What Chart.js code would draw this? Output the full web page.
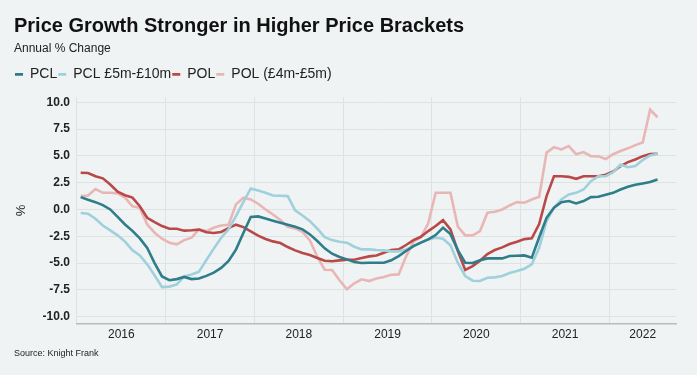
<!DOCTYPE html>
<html>
<head>
<meta charset="utf-8">
<script src="https://cdn.jsdelivr.net/npm/chart.js@4.4.1/dist/chart.umd.min.js"></script>
<style>
  body { margin: 0; background: #f0f3f3; }
  #wrap { position: relative; width: 697px; height: 375px; background: #f0f3f3; }
  #source { position: absolute; left: 14px; top: 348px; font: 9px "Liberation Sans", Arial, sans-serif; color: #222; }
</style>
</head>
<body>
<div id="wrap">
  <canvas id="chart"></canvas>
  <div id="source">Source: Knight Frank</div>
</div>
<script>
// annual % change, monthly Jan 2016 - Jul 2022
const years = ['2016', '2017', '2018', '2019', '2020', '2021', '2022'];
const yearCentres = [6, 18, 30, 42, 54, 66, 76.5];
const yTicks = [-10, -7.5, -5, -2.5, 0, 2.5, 5, 7.5, 10];

const pcl = [
  1.15, 0.9, 0.68, 0.4, 0.0, -0.7, -1.4, -2.0, -2.7, -3.6, -5.0, -6.25, -6.6, -6.5,
  -6.3, -6.5, -6.45, -6.2, -5.9, -5.45, -4.8, -3.75, -2.2, -0.7, -0.65, -0.85, -1.05,
  -1.24, -1.43, -1.61, -1.86, -2.33, -2.95, -3.63, -4.13, -4.44, -4.66, -4.9, -5.0, -4.97,
  -4.97, -4.97, -4.75, -4.35, -3.88, -3.42, -3.1, -2.8, -2.39, -1.7, -2.3, -3.79, -4.97, -5.0,
  -4.75, -4.57, -4.57, -4.57, -4.35, -4.32, -4.29, -4.5, -2.6, -0.78, 0.16, 0.68, 0.78,
  0.56, 0.78, 1.15, 1.18, 1.37, 1.55, 1.86, 2.11, 2.3, 2.42, 2.55, 2.8
];
const pcl5to10 = [
  -0.34, -0.4, -0.87, -1.5, -1.96, -2.42, -3.0, -3.8, -4.29, -5.12, -6.15, -7.24, -7.2, -7.0,
  -6.24, -6.06, -5.8, -4.72, -3.66, -2.64, -1.86, -0.62, 0.68, 1.96, 1.77, 1.55, 1.3,
  1.27, 1.24, -0.09, -0.56, -1.09, -1.8, -2.58, -2.86, -3.01, -3.1, -3.48, -3.73, -3.73,
  -3.79, -3.82, -3.91, -3.91, -3.73, -3.42, -3.1, -2.8, -2.64, -2.73, -3.35, -4.97, -6.21, -6.65,
  -6.68, -6.37, -6.34, -6.21, -5.93, -5.75, -5.53, -5.12, -3.57, -1.09, 0.16, 0.93, 1.4,
  1.55, 1.86, 2.64, 3.1, 3.1, 3.48, 4.19, 3.94, 4.04, 4.6, 5.03, 5.19
];
const pol = [
  3.42, 3.4, 3.1, 2.9, 2.33, 1.65, 1.33, 1.1, 0.3, -0.78, -1.18, -1.55, -1.8, -1.8,
  -1.98, -1.94, -1.88, -2.13, -2.2, -2.1, -1.74, -1.42, -1.65, -2.05, -2.45, -2.76, -2.98,
  -3.14, -3.51, -3.82, -4.07, -4.26, -4.53, -4.78, -4.84, -4.75, -4.69, -4.69, -4.53, -4.38,
  -4.29, -4.04, -3.79, -3.73, -3.32, -2.86, -2.55, -2.02, -1.55, -1.0, -1.86, -3.88, -5.65, -5.28,
  -4.78, -4.16, -3.79, -3.54, -3.23, -3.01, -2.77, -2.7, -1.37, 1.24, 3.1, 3.1, 3.04,
  2.86, 3.1, 3.1, 3.1, 3.23, 3.54, 4.04, 4.41, 4.66, 4.97, 5.16, 5.19
];
const pol4to5 = [
  1.24, 1.3, 1.9, 1.55, 1.55, 1.5, 1.1, 0.3, 0.15, -1.4, -2.17, -2.73, -3.1, -3.26,
  -2.86, -2.64, -1.86, -2.02, -1.71, -1.5, -1.43, 0.47, 1.09, 0.93, 0.53, 0.0, -0.47,
  -0.99, -1.61, -1.77, -2.1, -2.9, -4.41, -5.62, -5.65, -6.61, -7.45, -6.89, -6.52, -6.68,
  -6.45, -6.3, -6.1, -6.06, -4.4, -3.0, -2.6, -1.3, 1.55, 1.55, 1.55, -1.6, -2.42, -2.42,
  -2.02, -0.31, -0.22, 0.0, 0.37, 0.68, 0.62, 0.93, 1.18, 5.3, 5.8, 5.6, 5.9,
  5.15, 5.35, 4.97, 4.95, 4.7, 5.15, 5.45, 5.7, 6.0, 6.25, 9.3, 8.6
];

// month categories Jan 2016 - Sep 2022 (axis runs a little past the data)
const months = [];
years.forEach(y => {
  for (let m = 1; m <= 12; m++) {
    if (y === '2022' && m > 9) break;
    months.push(y + '-' + String(m).padStart(2, '0'));
  }
});

const font = '"Liberation Sans", Arial, sans-serif';
const ink = '#222222';
const gridColor = '#dde2e2';

// extra gap under the legend
const legendSpacer = {
  id: 'legendSpacer',
  beforeInit(chart) {
    const fit = chart.legend.fit;
    chart.legend.fit = function () {
      fit.bind(chart.legend)();
      this.height += 6;
    };
  }
};

function line(label, data, color) {
  return {
    label: label,
    data: data,
    borderColor: color,
    backgroundColor: color,
    borderWidth: 2.6,
    pointRadius: 0,
    tension: 0,
    xAxisID: 'x'
  };
}

new Chart(document.getElementById('chart'), {
  type: 'line',
  data: {
    labels: months,
    datasets: [
      line('PCL', pcl, '#2f7d8a'),
      line('PCL £5m-£10m', pcl5to10, '#9fd0dc'),
      line('POL', pol, '#b94949'),
      line('POL (£4m-£5m)', pol4to5, '#e9b6b6')
    ]
  },
  options: {
    responsive: true,
    maintainAspectRatio: false,
    animation: false,
    layout: { padding: { left: 14, right: 21, top: 0, bottom: 29 } },
    plugins: {
      title: {
        display: true,
        align: 'start',
        text: 'Price Growth Stronger in Higher Price Brackets',
        color: '#111',
        font: { family: font, size: 20, weight: 'bold' },
        padding: { top: 14, bottom: 0 }
      },
      subtitle: {
        display: true,
        align: 'start',
        text: 'Annual % Change',
        color: ink,
        font: { family: font, size: 12 },
        padding: { top: 3, bottom: 11 }
      },
      legend: {
        align: 'start',
        labels: {
          usePointStyle: true,
          pointStyleWidth: 8,
          pointStyle: 'line',
          padding: 1,
          color: ink,
          font: { family: font, size: 14 }
        }
      },
      tooltip: { enabled: false }
    },
    scales: {
      x: {
        type: 'category',
        offset: true,
        grid: {
          offset: true,
          drawTicks: false,
          color: c => (c.index % 12 === 0 ? gridColor : 'rgba(0,0,0,0)')
        },
        border: { display: true, color: '#b9bcbc', width: 1.5 },
        ticks: { display: false, autoSkip: false }
      },
      x2: {
        type: 'linear',
        position: 'bottom',
        min: 0,
        max: months.length,
        afterBuildTicks: s => { s.ticks = yearCentres.map(v => ({ value: v })); },
        grid: { display: false, drawTicks: false },
        border: { display: false },
        ticks: {
          autoSkip: false,
          maxRotation: 0,
          padding: 4,
          color: ink,
          font: { family: font, size: 12 },
          callback: (v, i) => years[i]
        }
      },
      y: {
        min: -10.65,
        max: 10.45,
        afterBuildTicks: s => { s.ticks = yTicks.map(v => ({ value: v })); },
        grid: { color: gridColor, drawTicks: false },
        border: { display: false },
        ticks: {
          padding: 7,
          color: ink,
          font: { family: font, size: 12, weight: 'bold' },
          callback: v => v.toFixed(1)
        },
        title: {
          display: true,
          text: '%',
          color: ink,
          font: { family: font, size: 13 },
          padding: { top: 0, bottom: 6 }
        }
      }
    }
  },
  plugins: [legendSpacer]
});
</script>
</body>
</html>
